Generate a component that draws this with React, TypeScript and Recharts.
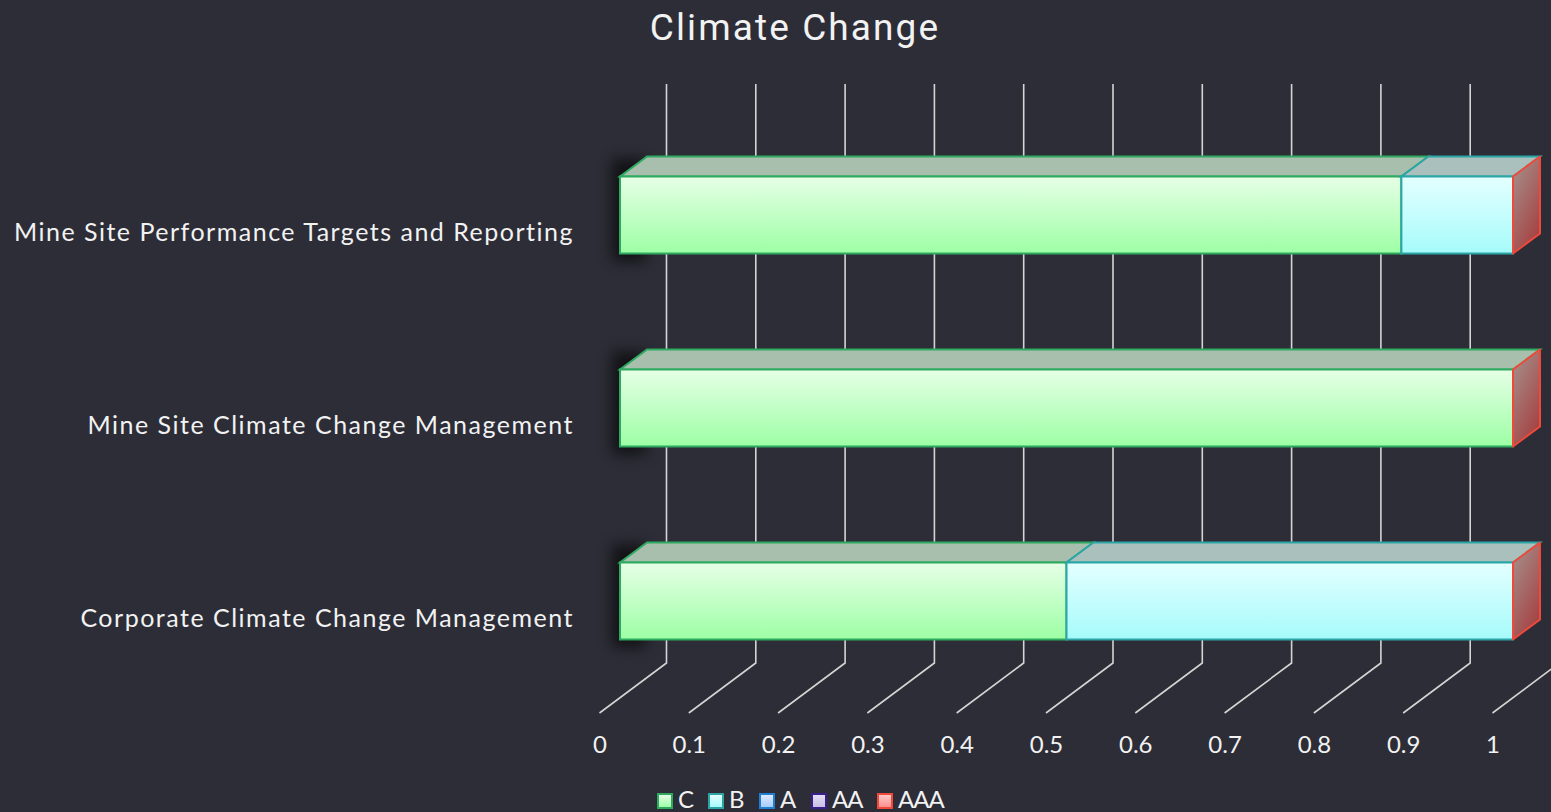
import { Bar, BarChart, CartesianGrid, Legend, XAxis, YAxis } from "recharts";

const CATEGORIES = [
  "Mine Site Performance Targets and Reporting",
  "Mine Site Climate Change Management",
  "Corporate Climate Change Management",
];
const C_VALUES = [0.875, 1, 0.5];
const B_VALUES = [0.125, 0, 0.5];
const A_VALUES = [0, 0, 0];
const AA_VALUES = [0, 0, 0];
const AAA_VALUES = [0, 0, 0];
const X_TICKS = [0, 0.1, 0.2, 0.3, 0.4, 0.5, 0.6, 0.7, 0.8, 0.9, 1];

const data = CATEGORIES.map((name, i) => ({
  name,
  C: C_VALUES[i],
  B: B_VALUES[i],
  A: A_VALUES[i],
  AA: AA_VALUES[i],
  AAA: AAA_VALUES[i],
}));

const BG = "#2d2d37";
const TEXT = "#f2f2f2";
const FONT = "Lato, sans-serif";
const GRID = "#d4d4d4";
// 3d look: how far the back of the bar sits from its front face
const DEPTH_X = 27;
const DEPTH_Y = 20;

const STYLES: Record<string, { top: string; bottom: string; edge: string; roof: string; left: number; textLeft: number }> = {
  C: { top: "#e6ffe6", bottom: "#9dffa5", edge: "#2eaa60", roof: "#a9bfae", left: 657, textLeft: 678 },
  B: { top: "#e4ffff", bottom: "#a6fbfb", edge: "#2ba5a5", roof: "#aac0bc", left: 708, textLeft: 729 },
  A: { top: "#dcebff", bottom: "#a8ccff", edge: "#1f7fd0", roof: "#a9b8c8", left: 759, textLeft: 780 },
  AA: { top: "#e2dcf5", bottom: "#c8c0e4", edge: "#3b1e8c", roof: "#b0aac0", left: 811, textLeft: 832 },
  AAA: { top: "#ffcaca", bottom: "#ff8e8e", edge: "#f0493a", roof: "#c0a0a0", left: 877, textLeft: 898 },
};

function Block3d(props: any) {
  const { x, y, width, height, dataKey } = props;
  const s = STYLES[dataKey];
  if (dataKey === "AAA") {
    // zero width series, only shows up as the red end cap
    const p = `${x},${y} ${x + DEPTH_X},${y - DEPTH_Y} ${x + DEPTH_X},${y + height - DEPTH_Y} ${x},${y + height}`;
    return <polygon points={p} fill="url(#capFill)" stroke={s.edge} strokeWidth={2} strokeLinejoin="round" />;
  }
  if (!width) return null;
  const roof = `${x},${y} ${x + width},${y} ${x + width + DEPTH_X},${y - DEPTH_Y} ${x + DEPTH_X},${y - DEPTH_Y}`;
  return (
    <g>
      {dataKey === "C" && (
        <rect x={x - 8} y={y - 18} width={34} height={height + 26} fill="#000" opacity={0.6} filter="url(#soft)" />
      )}
      <polygon points={roof} fill={s.roof} stroke={s.edge} strokeWidth={2} />
      <rect x={x} y={y} width={width} height={height} fill={`url(#fill${dataKey})`} stroke={s.edge} strokeWidth={2} />
    </g>
  );
}

// grid line runs up the back wall and then forward along the floor
function GridLine(props: any) {
  const { x1, y1, y2, index } = props;
  return (
    <path
      key={index}
      d={`M${x1 + 46.5},${y1 - 34.5} L${x1 + 46.5},${y2 - 34.5} L${x1 - 20.5},${y2 + 15.5}`}
      fill="none"
      stroke={GRID}
      strokeWidth={1.6}
    />
  );
}

function ValueTick({ x, y, payload }: any) {
  return (
    <text x={x - 20} y={y + 47} textAnchor="middle" fontFamily={FONT} fontSize={24} fill={TEXT}>
      {payload.value}
    </text>
  );
}

function CategoryTick({ x, y, payload }: any) {
  return (
    <text x={574} y={y + 26} textAnchor="end" fontFamily={FONT} fontSize={25} letterSpacing={1.5} fill={TEXT}>
      {payload.value}
    </text>
  );
}

function LegendBox({ payload }: any) {
  return (
    <div style={{ position: "relative", height: 0 }}>
      {(payload ?? []).map((p: any) => {
        const s = STYLES[p.value];
        return (
          <div key={p.value}>
            <div
              style={{
                position: "absolute",
                left: s.left,
                top: 0,
                width: 12,
                height: 12,
                border: `2px solid ${s.edge}`,
                background: `linear-gradient(${s.top}, ${s.bottom})`,
              }}
            />
            <div
              style={{
                position: "absolute",
                left: s.textLeft,
                top: -9,
                fontFamily: FONT,
                fontSize: 24,
                letterSpacing: -1,
                lineHeight: "30px",
                color: TEXT,
              }}
            >
              {p.value}
            </div>
          </div>
        );
      })}
    </div>
  );
}

export default function App() {
  return (
    <div style={{ position: "absolute", left: 0, top: 0, width: 1551, height: 812, background: BG, overflow: "hidden" }}>
      <div
        style={{
          position: "absolute",
          left: 0,
          width: 1590,
          top: 6,
          textAlign: "center",
          fontFamily: "Roboto, sans-serif",
          fontWeight: 400,
          fontSize: 37,
          letterSpacing: 2.1,
          color: TEXT,
        }}
      >
        Climate Change
      </div>
      <BarChart
        width={1551}
        height={812}
        data={data}
        layout="vertical"
        barCategoryGap={0}
        margin={{ top: 118.5, right: 38, bottom: 84.5, left: 0 }}
      >
        <defs>
          {Object.keys(STYLES).map((k) => (
            <linearGradient key={k} id={`fill${k}`} x1="0" y1="0" x2="0" y2="1">
              <stop offset="0%" stopColor={STYLES[k].top} />
              <stop offset="100%" stopColor={STYLES[k].bottom} />
            </linearGradient>
          ))}
          <linearGradient id="capFill" x1="0" y1="0" x2="0.6" y2="1">
            <stop offset="0%" stopColor="#a59490" />
            <stop offset="100%" stopColor="#a54444" />
          </linearGradient>
          <filter id="soft" x="-100%" y="-50%" width="300%" height="200%">
            <feGaussianBlur stdDeviation="7" />
          </filter>
        </defs>
        <CartesianGrid horizontal={false} vertical={GridLine} />
        <XAxis
          type="number"
          domain={[0, 1]}
          ticks={X_TICKS}
          height={30}
          axisLine={false}
          tickLine={false}
          tick={ValueTick}
          interval={0}
        />
        <YAxis type="category" dataKey="name" width={620} axisLine={false} tickLine={false} tick={CategoryTick} interval={0} />
        <Legend verticalAlign="bottom" height={0} wrapperStyle={{ left: 0, bottom: 19, width: 1551 }} content={LegendBox} />
        {Object.keys(STYLES).map((k) => (
          <Bar key={k} dataKey={k} stackId="all" barSize={77} shape={Block3d} isAnimationActive={false} />
        ))}
      </BarChart>
    </div>
  );
}
